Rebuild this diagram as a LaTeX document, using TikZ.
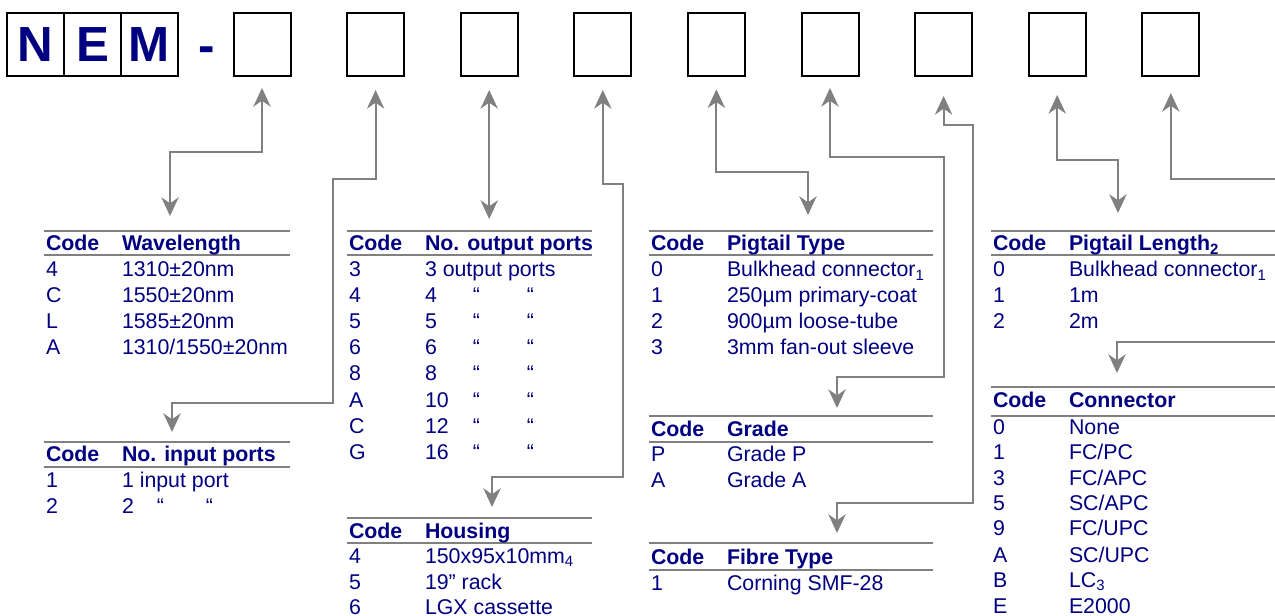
\documentclass[tikz,border=0pt]{standalone}
\usepackage{fontspec}
\setmainfont{Liberation Sans}
\usepackage{xcolor}
\usepackage{tikz}
\definecolor{navytext}{RGB}{0, 0, 128}
\definecolor{linkgray}{RGB}{128, 128, 128}
\usetikzlibrary{arrows.meta, positioning}

\begin{document}
\begin{tikzpicture}[
    x=0.75pt, y=-0.75pt,
    every node/.style={font=\fontsize{16}{19}\selectfont},
    letterbox/.style={rectangle, draw=black, line width=1.5pt, minimum width=42.75pt,
                      minimum height=47.25pt, inner sep=0pt, outer sep=0pt,
                      text=navytext, font=\fontsize{37}{40}\selectfont\bfseries},
    slotbox/.style={rectangle, draw=black, line width=1.5pt, minimum width=42.75pt,
                    minimum height=47.25pt, inner sep=0pt, outer sep=0pt},
    codecell/.style={inner sep=0pt, outer sep=0pt, anchor=base west,
                     text width=57pt, align=left, text=navytext},
    headcode/.style={codecell, font=\fontsize{16}{19}\selectfont\bfseries},
    valcell/.style={inner sep=0pt, outer sep=0pt, text=navytext},
    headval/.style={valcell, font=\fontsize{16}{19}\selectfont\bfseries},
    tablerule/.style={draw=linkgray, line width=1.5pt},
    link/.style={draw=linkgray, line width=1.5pt, shorten <=10pt, <->,
                 >={Stealth[length=14pt, width=13pt, inset=4.5pt]}}
]
    \useasboundingbox (0,0) rectangle (1275,616);
    \clip (0,0) rectangle (1275,616);

    % Part number
    \node[letterbox] (n1) at (35.5,44.5) {N};
    \node[letterbox, right=0pt of n1] (n2) {E};
    \node[letterbox, right=0pt of n2] (n3) {M};
    \node[inner sep=0pt, anchor=base, text=navytext,
          font=\fontsize{37}{40}\selectfont\bfseries] (dash) at (206.5,63) {-};
    \node[slotbox] (b1) at (262,44.5) {};
    \node[slotbox, right=42.45pt of b1] (b2) {};
    \node[slotbox, right=42.45pt of b2] (b3) {};
    \node[slotbox, right=42.45pt of b3] (b4) {};
    \node[slotbox, right=42.45pt of b4] (b5) {};
    \node[slotbox, right=42.45pt of b5] (b6) {};
    \node[slotbox, right=42.45pt of b6] (b7) {};
    \node[slotbox, right=42.45pt of b7] (b8) {};
    \node[slotbox, right=42.45pt of b8] (b9) {};

    % Table entry points
    \coordinate (wl) at (170,216);
    \coordinate (inp) at (172,432);
    \coordinate (outp) at (b3.south |- 0,219);
    \coordinate (hou) at (492,507);
    \coordinate (pgt) at (808,215);
    \coordinate (grd) at (837,408);
    \coordinate (fib) at (837,533);
    \coordinate (pgl) at (1118,213);
    \coordinate (con) at (1117,373);

    % Connectors
    \draw[link, shorten <=9pt] (b1.south) |- (170,152) -- (wl);
    \draw[link, shorten <=10.5pt] (b2.south) |- (333,179) |- (172,403) -- (inp);
    \draw[link, shorten <=10.5pt] (b3.south) -- (outp);
    \draw[link, shorten <=10.5pt] (b4.south) |- (623,184) |- (492,477) -- (hou);
    \draw[link] (b5.south) |- (808,172) -- (pgt);
    \draw[link, shorten <=9pt] (b6.south) |- (944,157) |- (837,377) -- (grd);
    \draw[link, shorten <=15pt] (b7.south) |- (973,125) |- (837,503) -- (fib);
    \draw[link, shorten <=14.25pt] (b8.south) |- (1118,160) -- (pgl);
    \draw[link, shorten <=12.75pt] (b9.south) |- (1290,179) |- (1117,342) -- (con);

    % Wavelength
    \draw[tablerule] (44,231) -- (290,231);
    \draw[tablerule] (44,255) -- (290,255);
    \node[headcode] (wl0) at (46,251) {Code};
    \node[headval, base right=0pt of wl0] (wl0v) {Wavelength};
    \node[codecell] (wl1) at (46,277) {4};
    \node[valcell, base right=0pt of wl1] (wl1v) {1310±20nm};
    \node[codecell] (wl2) at (46,303) {C};
    \node[valcell, base right=0pt of wl2] (wl2v) {1550±20nm};
    \node[codecell] (wl3) at (46,329) {L};
    \node[valcell, base right=0pt of wl3] (wl3v) {1585±20nm};
    \node[codecell] (wl4) at (46,355) {A};
    \node[valcell, base right=0pt of wl4] (wl4v) {1310/1550±20nm};

    % No. input ports
    \draw[tablerule] (44,442) -- (290,442);
    \draw[tablerule] (44,467) -- (290,467);
    \node[headcode] (in0) at (46,462) {Code};
    \node[headval, base right=0pt of in0] (in0v) {No. input ports};
    \node[codecell] (in1) at (46,488) {1};
    \node[valcell, base right=0pt of in1] (in1v) {1 input port};
    \node[codecell] (in2) at (46,513) {2};
    \node[valcell, base right=0pt of in2] (in2v) {\makebox[26.25pt][l]{2}\makebox[36.75pt][l]{“}“};

    % No. output ports
    \draw[tablerule] (347,231) -- (592,231);
    \draw[tablerule] (347,255) -- (592,255);
    \node[headcode] (out0) at (349,251) {Code};
    \node[headval, base right=0pt of out0] (out0v) {No. output ports};
    \node[codecell] (out1) at (349,277) {3};
    \node[valcell, base right=0pt of out1] (out1v) {3 output ports};
    \node[codecell] (out2) at (349,303) {4};
    \node[valcell, base right=0pt of out2] (out2v) {\makebox[36pt][l]{4}\makebox[40.5pt][l]{“}“};
    \node[codecell] (out3) at (349,329) {5};
    \node[valcell, base right=0pt of out3] (out3v) {\makebox[36pt][l]{5}\makebox[40.5pt][l]{“}“};
    \node[codecell] (out4) at (349,355) {6};
    \node[valcell, base right=0pt of out4] (out4v) {\makebox[36pt][l]{6}\makebox[40.5pt][l]{“}“};
    \node[codecell] (out5) at (349,381) {8};
    \node[valcell, base right=0pt of out5] (out5v) {\makebox[36pt][l]{8}\makebox[40.5pt][l]{“}“};
    \node[codecell] (out6) at (349,408) {A};
    \node[valcell, base right=0pt of out6] (out6v) {\makebox[36pt][l]{10}\makebox[40.5pt][l]{“}“};
    \node[codecell] (out7) at (349,434) {C};
    \node[valcell, base right=0pt of out7] (out7v) {\makebox[36pt][l]{12}\makebox[40.5pt][l]{“}“};
    \node[codecell] (out8) at (349,460) {G};
    \node[valcell, base right=0pt of out8] (out8v) {\makebox[36pt][l]{16}\makebox[40.5pt][l]{“}“};

    % Housing
    \draw[tablerule] (347,518) -- (592,518);
    \draw[tablerule] (347,543) -- (592,543);
    \node[headcode] (hs0) at (349,538) {Code};
    \node[headval, base right=0pt of hs0] (hs0v) {Housing};
    \node[codecell] (hs1) at (349,563) {4};
    \node[valcell, base right=0pt of hs1] (hs1v) {150x95x10mm\textsubscript{4}};
    \node[codecell] (hs2) at (349,589) {5};
    \node[valcell, base right=0pt of hs2] (hs2v) {19” rack};
    \node[codecell] (hs3) at (349,614) {6};
    \node[valcell, base right=0pt of hs3] (hs3v) {LGX cassette};

    % Pigtail Type
    \draw[tablerule] (649,231) -- (933,231);
    \draw[tablerule] (649,255) -- (933,255);
    \node[headcode] (pt0) at (651,251) {Code};
    \node[headval, base right=0pt of pt0] (pt0v) {Pigtail Type};
    \node[codecell] (pt1) at (651,277) {0};
    \node[valcell, base right=0pt of pt1] (pt1v) {Bulkhead connector\textsubscript{1}};
    \node[codecell] (pt2) at (651,303) {1};
    \node[valcell, base right=0pt of pt2] (pt2v) {250µm primary-coat};
    \node[codecell] (pt3) at (651,329) {2};
    \node[valcell, base right=0pt of pt3] (pt3v) {900µm loose-tube};
    \node[codecell] (pt4) at (651,355) {3};
    \node[valcell, base right=0pt of pt4] (pt4v) {3mm fan-out sleeve};

    % Grade
    \draw[tablerule] (649,416) -- (933,416);
    \draw[tablerule] (649,442) -- (933,442);
    \node[headcode] (gr0) at (651,437) {Code};
    \node[headval, base right=0pt of gr0] (gr0v) {Grade};
    \node[codecell] (gr1) at (651,462) {P};
    \node[valcell, base right=0pt of gr1] (gr1v) {Grade P};
    \node[codecell] (gr2) at (651,488) {A};
    \node[valcell, base right=0pt of gr2] (gr2v) {Grade A};

    % Fibre Type
    \draw[tablerule] (649,543) -- (933,543);
    \draw[tablerule] (649,570) -- (933,570);
    \node[headcode] (fb0) at (651,564) {Code};
    \node[headval, base right=0pt of fb0] (fb0v) {Fibre Type};
    \node[codecell] (fb1) at (651,590) {1};
    \node[valcell, base right=0pt of fb1] (fb1v) {Corning SMF-28};

    % Pigtail Length
    \draw[tablerule] (991,231) -- (1280,231);
    \draw[tablerule] (991,255) -- (1280,255);
    \node[headcode] (pl0) at (993,251) {Code};
    \node[headval, base right=0pt of pl0] (pl0v) {Pigtail Length\textsubscript{2}};
    \node[codecell] (pl1) at (993,277) {0};
    \node[valcell, base right=0pt of pl1] (pl1v) {Bulkhead connector\textsubscript{1}};
    \node[codecell] (pl2) at (993,303) {1};
    \node[valcell, base right=0pt of pl2] (pl2v) {1m};
    \node[codecell] (pl3) at (993,329) {2};
    \node[valcell, base right=0pt of pl3] (pl3v) {2m};

    % Connector
    \draw[tablerule] (991,387) -- (1280,387);
    \draw[tablerule] (991,416) -- (1280,416);
    \node[headcode] (cn0) at (993,408) {Code};
    \node[headval, base right=0pt of cn0] (cn0v) {Connector};
    \node[codecell] (cn1) at (993,435) {0};
    \node[valcell, base right=0pt of cn1] (cn1v) {None};
    \node[codecell] (cn2) at (993,460) {1};
    \node[valcell, base right=0pt of cn2] (cn2v) {FC/PC};
    \node[codecell] (cn3) at (993,486) {3};
    \node[valcell, base right=0pt of cn3] (cn3v) {FC/APC};
    \node[codecell] (cn4) at (993,511) {5};
    \node[valcell, base right=0pt of cn4] (cn4v) {SC/APC};
    \node[codecell] (cn5) at (993,536) {9};
    \node[valcell, base right=0pt of cn5] (cn5v) {FC/UPC};
    \node[codecell] (cn6) at (993,562) {A};
    \node[valcell, base right=0pt of cn6] (cn6v) {SC/UPC};
    \node[codecell] (cn7) at (993,587) {B};
    \node[valcell, base right=0pt of cn7] (cn7v) {LC\textsubscript{3}};
    \node[codecell] (cn8) at (993,613) {E};
    \node[valcell, base right=0pt of cn8] (cn8v) {E2000};
\end{tikzpicture}
\end{document}
